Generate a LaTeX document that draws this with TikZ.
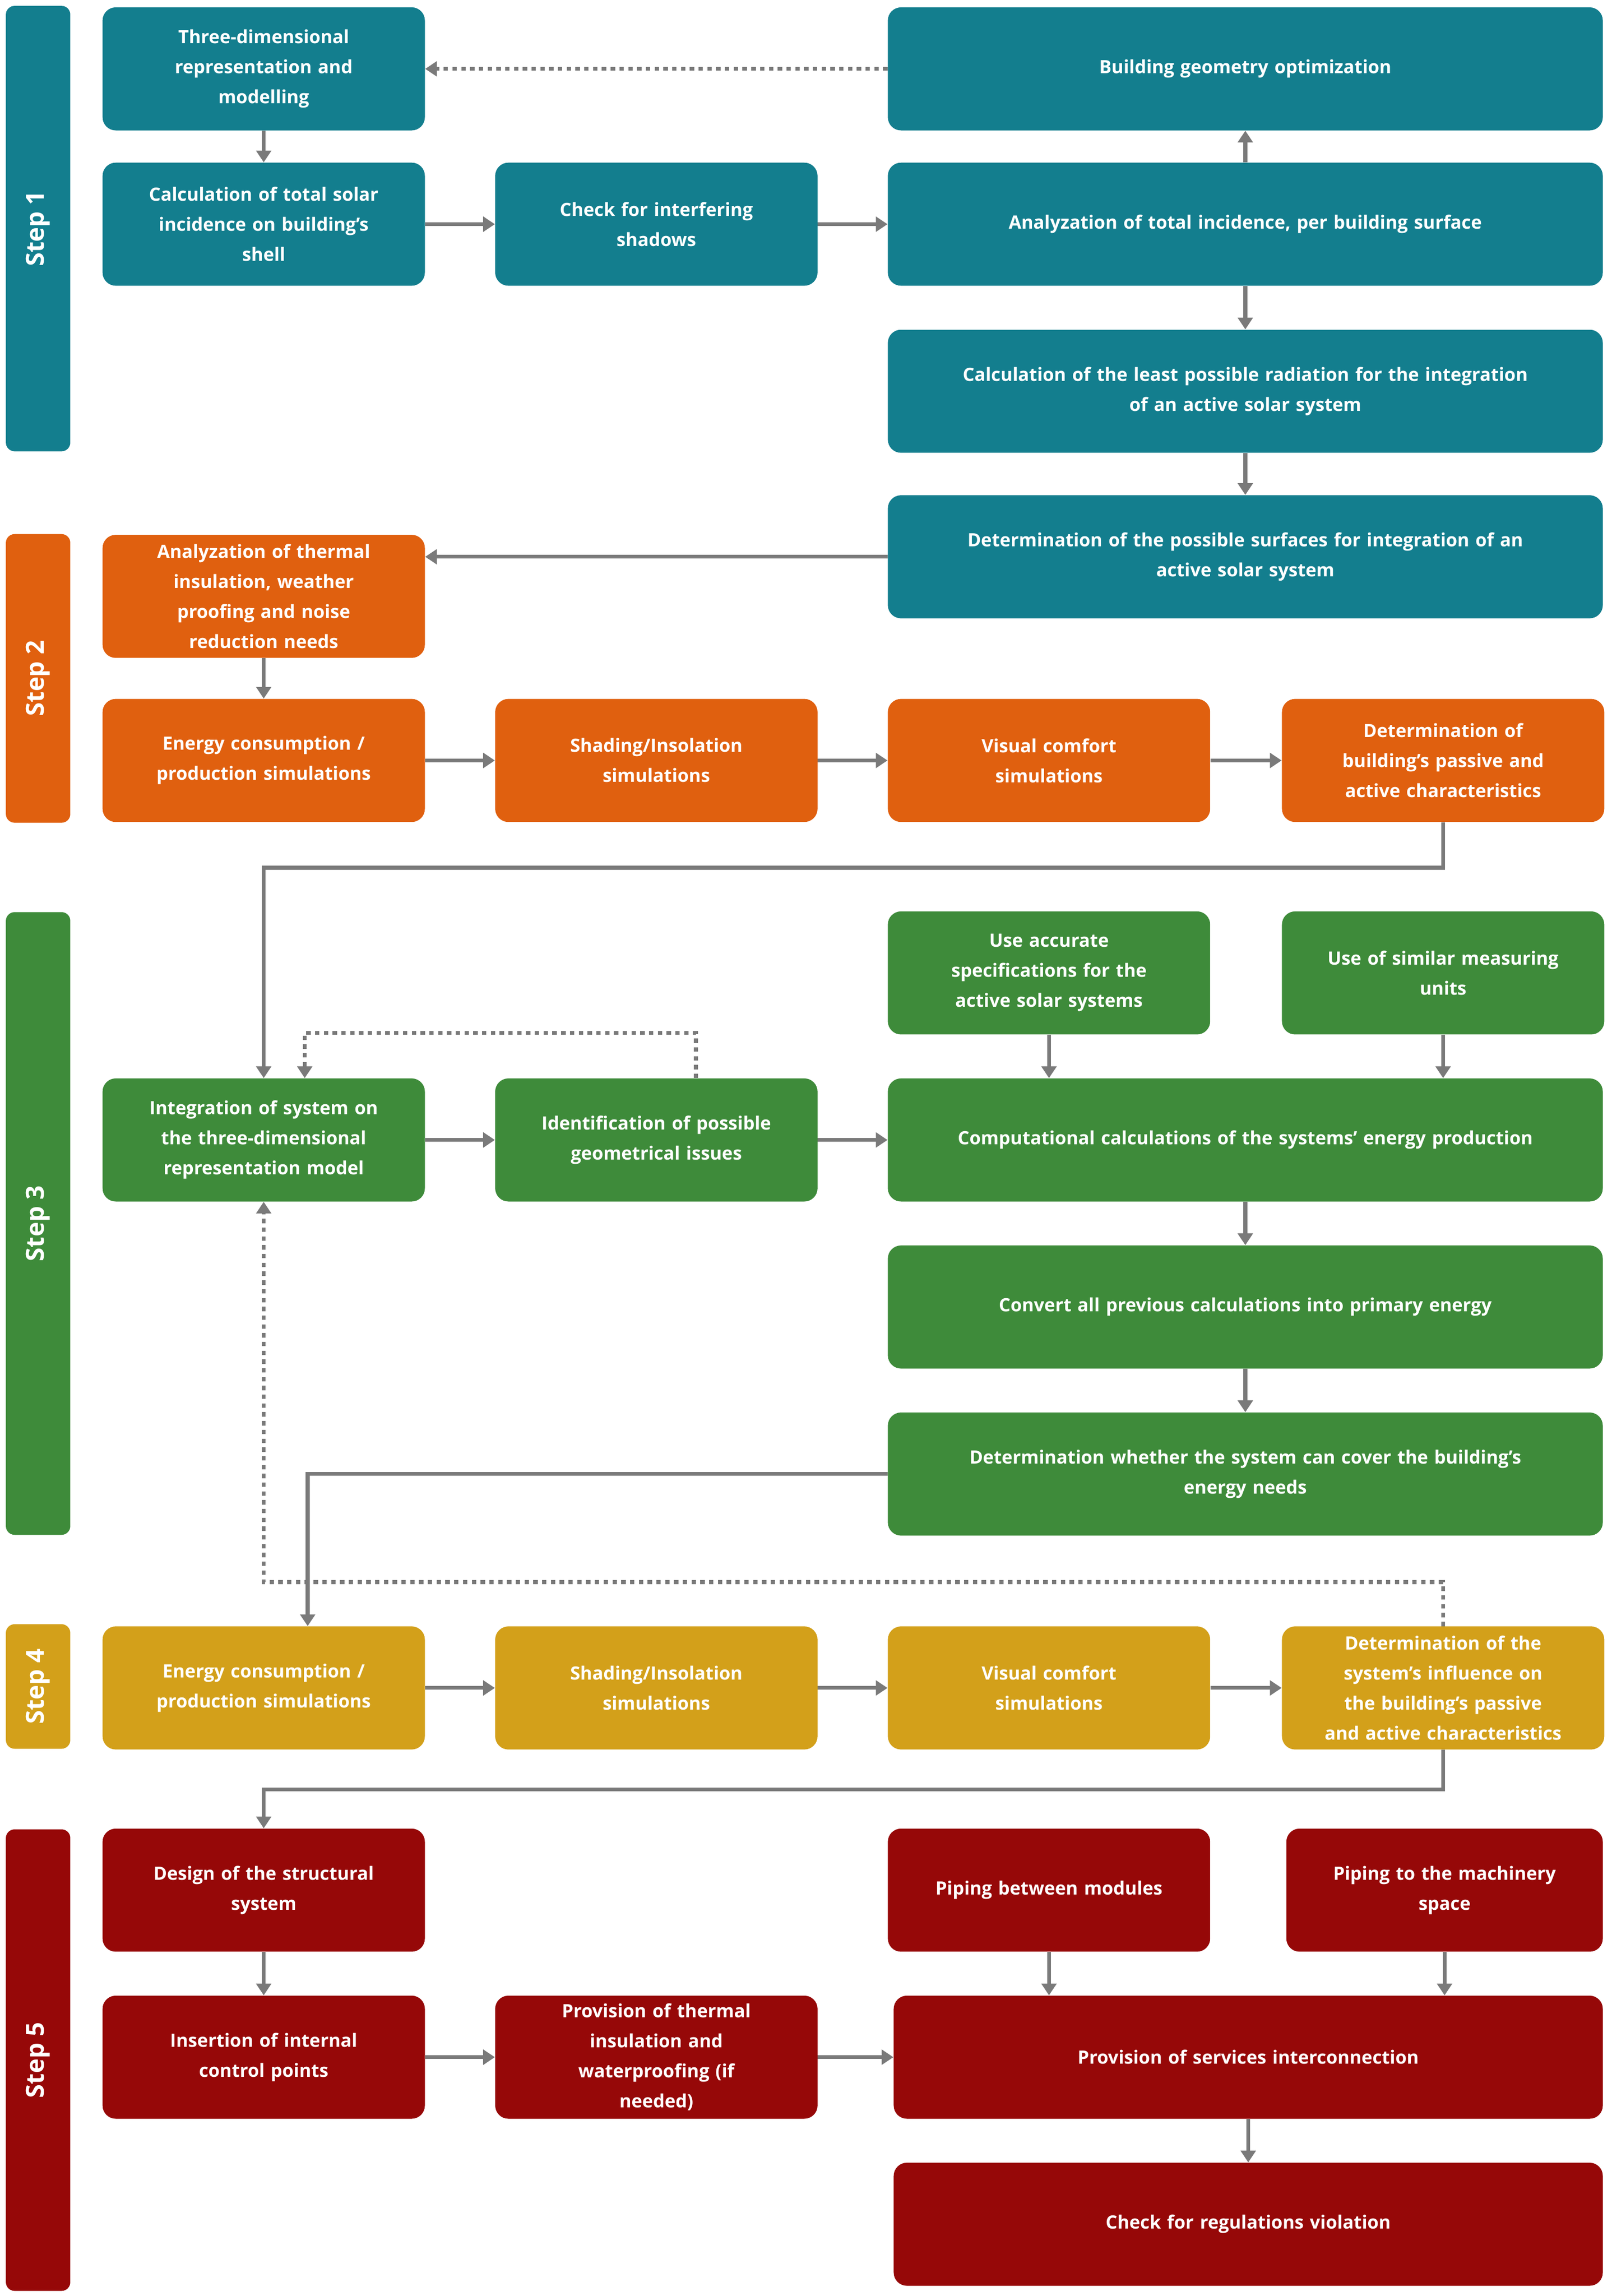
\documentclass[tikz,border=0pt]{standalone}
\usepackage{fontspec}
\setmainfont{Open Sans}
\usetikzlibrary{arrows.meta,calc}
\definecolor{cT}{HTML}{137E8E}
\definecolor{cO}{HTML}{E0600F}
\definecolor{cG}{HTML}{3E8B3A}
\definecolor{cY}{HTML}{D3A01A}
\definecolor{cR}{HTML}{960808}
\definecolor{cA}{HTML}{7A7A7A}
\begin{document}
\begin{tikzpicture}[x=1pt,y=-1pt,
 box/.style={fill=#1,rounded corners=9pt,minimum height=84pt,text=white,align=center,inner sep=2pt,font=\fontsize{12.5}{20.5}\selectfont\bfseries},
 s/.style={box=#1,minimum width=220pt,text width=205pt},
 w/.style={box=#1,minimum width=488pt,text width=470pt},
 bar/.style={fill=#1,rounded corners=6pt,minimum width=44pt,text=white,inner sep=0pt,font=\fontsize{17}{20}\selectfont\bfseries},
 ar/.style={draw=cA,line width=2.6pt,-{Triangle[length=8pt,width=10pt]}},
 dar/.style={ar,dash pattern=on 3pt off 3pt}]
\useasboundingbox (0,0) rectangle (1100,1567);
% step bars
\node[bar=cT,minimum height=304pt] (s1) at (26,156) {\rotatebox{90}{Step 1}};
\node[bar=cO,minimum height=197pt] (s2) at (26,463) {\rotatebox{90}{Step 2}};
\node[bar=cG,minimum height=425pt] (s3) at (26,835) {\rotatebox{90}{Step 3}};
\node[bar=cY,minimum height=85pt] (s4) at (26,1151) {\rotatebox{90}{Step 4}};
\node[bar=cR,minimum height=315pt] (s5) at (26,1406) {\rotatebox{90}{Step 5}};
% step 1
\node[s=cT] (tdr) at (180,47) {Three-dimensional\\representation and\\modelling};
\node[w=cT] (geo) at (850,47) {Building geometry optimization};
\node[s=cT] (cst) at (180,153) {Calculation of total solar\\incidence on building's\\shell};
\node[s=cT] (chk) at (448,153) {Check for interfering\\shadows};
\node[w=cT] (ana) at (850,153) {Analyzation of total incidence, per building surface};
\node[w=cT] (lpr) at (850,267) {Calculation of the least possible radiation for the integration\\of an active solar system};
\node[w=cT] (dps) at (850,380) {Determination of the possible surfaces for integration of an\\active solar system};
% step 2
\node[s=cO] (ati) at (180,407) {Analyzation of thermal\\insulation, weather\\proofing and noise\\reduction needs};
\node[s=cO] (ec2) at (180,519) {Energy consumption /\\production simulations};
\node[s=cO] (sh2) at (448,519) {Shading/Insolation\\simulations};
\node[s=cO] (vc2) at (716,519) {Visual comfort\\simulations};
\node[s=cO] (dpa) at (985,519) {Determination of\\building's passive and\\active characteristics};
% step 3
\node[s=cG] (uas) at (716,664) {Use accurate\\specifications for the\\active solar systems};
\node[s=cG] (usm) at (985,664) {Use of similar measuring\\units};
\node[s=cG] (integ) at (180,778) {Integration of system on\\the three-dimensional\\representation model};
\node[s=cG] (ident) at (448,778) {Identification of possible\\geometrical issues};
\node[w=cG] (comp) at (850,778) {Computational calculations of the systems' energy production};
\node[w=cG] (conv) at (850,892) {Convert all previous calculations into primary energy};
\node[w=cG] (dwh) at (850,1006) {Determination whether the system can cover the building's\\energy needs};
% step 4
\node[s=cY] (ec4) at (180,1152) {Energy consumption /\\production simulations};
\node[s=cY] (sh4) at (448,1152) {Shading/Insolation\\simulations};
\node[s=cY] (vc4) at (716,1152) {Visual comfort\\simulations};
\node[s=cY] (dsi) at (985,1152) {Determination of the\\system's influence on\\the building's passive\\and active characteristics};
% step 5
\node[s=cR] (dss) at (180,1290) {Design of the structural\\system};
\node[s=cR] (pbm) at (716,1290) {Piping between modules};
\node[s=cR,minimum width=216pt] (pms) at (986,1290) {Piping to the machinery\\space};
\node[s=cR] (iic) at (180,1404) {Insertion of internal\\control points};
\node[s=cR] (pti) at (448,1404) {Provision of thermal\\insulation and\\waterproofing (if\\needed)};
\node[box=cR,minimum width=484pt,text width=470pt] (psi) at (852,1404) {Provision of services interconnection};
\node[box=cR,minimum width=484pt,text width=470pt] (crv) at (852,1518) {Check for regulations violation};
% connectors step 1
\draw[dar] (geo.west) -- (tdr.east);
\draw[ar] (tdr) -- (cst);
\draw[ar] (cst) -- (chk);
\draw[ar] (chk) -- (ana);
\draw[ar] (ana) -- (geo);
\draw[ar] (ana) -- (lpr);
\draw[ar] (lpr) -- (dps);
\draw[ar] (dps.west) -- (ati.east |- dps.west);
% step 2
\draw[ar] (ati) -- (ec2);
\draw[ar] (ec2) -- (sh2);
\draw[ar] (sh2) -- (vc2);
\draw[ar] (vc2) -- (dpa);
\draw[ar] (dpa.south) -- ++(0,31) -| (integ.north);
% step 3
\draw[dar] ($(ident.north)+(27,0)$) -- ++(0,-31) -| ($(integ.north)+(28,0)$);
\draw[ar] (integ) -- (ident);
\draw[ar] (ident) -- (comp);
\draw[ar] (uas) -- (uas |- comp.north);
\draw[ar] (usm) -- (usm |- comp.north);
\draw[ar] (comp) -- (conv);
\draw[ar] (conv) -- (dwh);
\draw[ar] (dwh.west) -| ($(ec4.north)+(30,0)$);
\draw[dar] (dsi.north) -- ++(0,-30) -| (integ.south);
% step 4
\draw[ar] (ec4) -- (sh4);
\draw[ar] (sh4) -- (vc4);
\draw[ar] (vc4) -- (dsi);
\draw[ar] (dsi.south) -- ++(0,27) -| (dss.north);
% step 5
\draw[ar] (dss) -- (iic);
\draw[ar] (iic) -- (pti);
\draw[ar] (pti) -- (psi);
\draw[ar] (pbm) -- (pbm |- psi.north);
\draw[ar] (pms) -- (pms |- psi.north);
\draw[ar] (psi) -- (crv);
\end{tikzpicture}
\end{document}
